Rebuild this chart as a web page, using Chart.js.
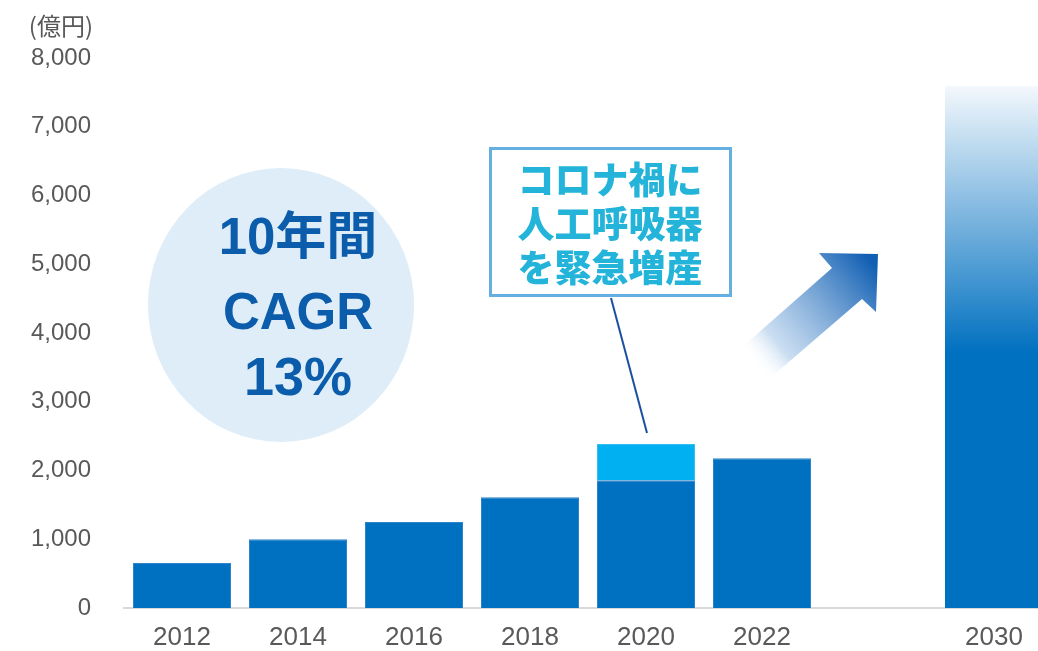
<!DOCTYPE html>
<html lang="ja">
<head>
<meta charset="utf-8">
<script src="https://cdn.jsdelivr.net/npm/chart.js@4"></script>
<style>
  html, body { margin: 0; padding: 0; background: #fff; overflow: hidden; }
  #wrap { position: relative; width: 1060px; height: 651px; }
</style>
</head>
<body>
<div id="wrap"><canvas id="chart"></canvas></div>
<script>
// data (億円)
const years = ['2012', '2014', '2016', '2018', '2020', '2022', '', '2030'];
const baseSales = [655, 1000, 1250, 1610, 1860, 2180, null, null];
const covidExtra = [null, null, null, null, 525, null, null, null];
const target2030 = [null, null, null, null, null, null, null, 7590];
const yTicks = [0, 1000, 2000, 3000, 4000, 5000, 6000, 7000, 8000];

const BLUE = '#0070c0';
const LIGHT = '#00b0f0';
const GRAY = '#595959';

// gradient for the 2030 bar: pale at the top, full blue lower down
function forecastFill(ctx) {
  const chart = ctx.chart;
  if (!chart.chartArea) return BLUE;
  const y = chart.scales.y;
  const top = y.getPixelForValue(target2030[7]);
  const full = y.getPixelForValue(3700);
  const g = chart.ctx.createLinearGradient(0, top, 0, full);
  g.addColorStop(0, '#f3f8fc');
  g.addColorStop(1, BLUE);
  return g;
}

const decorations = {
  id: 'decorations',
  afterDraw(chart) {
    const c = chart.ctx;
    c.save();

    // unit label
    c.fillStyle = GRAY;
    c.font = '24px "Noto Sans CJK JP", "Liberation Sans", sans-serif';
    c.textAlign = 'right';
    c.textBaseline = 'middle';
    c.fillText('(億円)', 93, 26);

    // CAGR bubble
    c.fillStyle = '#deedf8';
    c.beginPath();
    c.ellipse(281, 305, 133, 137, 0, 0, Math.PI * 2);
    c.fill();
    c.fillStyle = '#0b5cab';
    c.textAlign = 'center';
    c.font = 'bold 51px "Liberation Sans", "Noto Sans CJK JP", sans-serif';
    c.fillText('10年間', 298, 240);
    c.fillText('CAGR', 298, 315);
    c.font = 'bold 54px "Liberation Sans", "Noto Sans CJK JP", sans-serif';
    c.fillText('13%', 298, 380);

    // leader line from callout to the 2020 bar
    c.strokeStyle = '#1a4fa0';
    c.lineWidth = 2;
    c.beginPath();
    c.moveTo(611, 298);
    c.lineTo(647, 433);
    c.stroke();

    // callout box
    c.fillStyle = '#fff';
    c.fillRect(489, 147, 242, 150);
    c.strokeStyle = '#64b0e0';
    c.lineWidth = 3;
    c.strokeRect(490.5, 148.5, 240, 147);
    c.fillStyle = '#24b4da';
    c.font = '900 37px "Noto Sans CJK JP", sans-serif';
    c.fillText('コロナ禍に', 610, 180);
    c.fillText('人工呼吸器', 610, 224);
    c.fillText('を緊急増産', 610, 268);

    // growth arrow
    const g = c.createLinearGradient(752, 362, 872, 262);
    g.addColorStop(0, 'rgba(255,255,255,0)');
    g.addColorStop(0.2, 'rgba(190,214,238,0.8)');
    g.addColorStop(1, '#115fb3');
    c.fillStyle = g;
    c.beginPath();
    c.moveTo(740, 349);
    c.lineTo(832, 268);
    c.lineTo(819, 253);
    c.lineTo(878, 254);
    c.lineTo(876, 312);
    c.lineTo(862, 299);
    c.lineTo(769, 379);
    c.closePath();
    c.fill();

    c.restore();
  }
};

const chart = new Chart(document.getElementById('chart'), {
  type: 'bar',
  data: {
    labels: years,
    datasets: [
      { label: 'base', data: baseSales, backgroundColor: BLUE, borderColor: '#2f85cc', borderWidth: 1 },
      { label: 'covid', data: covidExtra, backgroundColor: LIGHT, borderColor: '#33bff2', borderWidth: 1 },
      { label: '2030', data: target2030, backgroundColor: forecastFill, borderWidth: 0 }
    ]
  },
  options: {
    responsive: true,
    maintainAspectRatio: false,
    animation: false,
    layout: { padding: { top: 58, right: 8, left: 0, bottom: 0 } },
    datasets: { bar: { categoryPercentage: 1, barPercentage: 0.845 } },
    plugins: { legend: { display: false }, tooltip: { enabled: false } },
    scales: {
      x: {
        stacked: true,
        grid: { display: false, drawTicks: false },
        border: { color: '#d9d9d9', width: 2 },
        ticks: {
          color: GRAY,
          padding: 17,
          font: { family: '"Liberation Sans", Arial, sans-serif', size: 26, lineHeight: 1 }
        },
        afterFit: s => { s.height = 43; }
      },
      y: {
        stacked: true,
        min: 0,
        max: 8000,
        grid: { display: false, drawTicks: false },
        border: { display: false },
        afterBuildTicks: s => { s.ticks = yTicks.map(v => ({ value: v })); },
        ticks: {
          color: GRAY,
          padding: 33,
          font: { family: '"Liberation Sans", Arial, sans-serif', size: 24 },
          callback: v => v.toLocaleString('en-US')
        },
        // fixed width; drop the label overhang so the plot keeps its full height
        afterFit: s => { s.width = 124; s.paddingTop = 0; s.paddingBottom = 0; }
      }
    }
  },
  plugins: [decorations]
});
</script>
</body>
</html>
